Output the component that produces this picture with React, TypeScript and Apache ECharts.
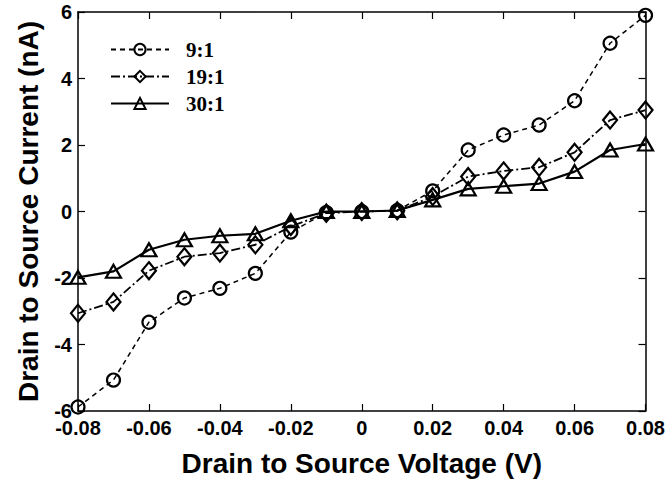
import React, { useEffect, useRef } from "react";
import * as echarts from "echarts";

const voltages = [-0.08, -0.07, -0.06, -0.05, -0.04, -0.03, -0.02, -0.01, 0, 0.01, 0.02, 0.03, 0.04, 0.05, 0.06, 0.07, 0.08];
const current9 = [-5.88, -5.07, -3.33, -2.6, -2.31, -1.86, -0.62, -0.03, 0, 0.03, 0.62, 1.85, 2.3, 2.6, 3.33, 5.06, 5.9];
const current19 = [-3.06, -2.72, -1.78, -1.36, -1.25, -1.0, -0.45, -0.05, 0, 0.02, 0.45, 1.05, 1.22, 1.33, 1.78, 2.75, 3.05];
const current30 = [-1.98, -1.8, -1.15, -0.85, -0.73, -0.67, -0.28, 0, 0, 0.03, 0.35, 0.68, 0.76, 0.84, 1.2, 1.85, 2.03];
const seriesNames = ["9:1", "19:1", "30:1"];

const pairs = (ys: number[]) => voltages.map((v, i) => [v, ys[i]]);

export default function App() {
  const ref = useRef<HTMLDivElement>(null);
  useEffect(() => {
    if (!ref.current) return;
    const chart = echarts.init(ref.current, null, { renderer: "svg" });
    const labelFont = { fontFamily: "Liberation Sans, Arial", fontWeight: "bold" as const, fontSize: 20, color: "#000" };
    const nameFont = { fontFamily: "Liberation Sans, Arial", fontWeight: "bold" as const, fontSize: 28, color: "#000" };
    const axisLine = { show: true, onZero: false, lineStyle: { color: "#000", width: 1.5 } };
    const tick = { show: true, inside: true, length: 7, lineStyle: { color: "#000", width: 1.2 } };
    const marker = (sym: string, size: number | number[]) => ({
      symbol: sym,
      symbolSize: size,
      showSymbol: true,
      itemStyle: { color: "rgba(255,255,255,0)", borderColor: "#000", borderWidth: 2.2 },
    });
    chart.setOption({
      animation: false,
      backgroundColor: "#fff",
      grid: { left: 78, right: 21, top: 12, bottom: 70 },
      legend: {
        orient: "vertical",
        left: 105,
        top: 34,
        itemWidth: 58,
        itemHeight: 14,
        itemGap: 6,
        data: seriesNames,
        textStyle: {
          fontFamily: "Liberation Serif, Times New Roman",
          fontWeight: "bold",
          fontSize: 21,
          lineHeight: 21,
          color: "#000",
          padding: [0, 0, 0, 12],
        },
      },
      xAxis: [
        {
          type: "value",
          min: -0.08,
          max: 0.08,
          interval: 0.02,
          axisLine,
          axisTick: tick,
          splitLine: { show: false },
          axisLabel: { ...labelFont, margin: 7, formatter: (v: number) => (Math.abs(v) < 1e-9 ? "0" : v.toFixed(2)) },
          name: "Drain to Source Voltage (V)",
          nameLocation: "middle",
          nameGap: 38,
          nameTextStyle: nameFont,
        },
        {
          type: "value",
          position: "top",
          min: -0.08,
          max: 0.08,
          interval: 0.02,
          axisLine,
          axisTick: tick,
          axisLabel: { show: false },
          splitLine: { show: false },
        },
      ],
      yAxis: [
        {
          type: "value",
          min: -6,
          max: 6,
          interval: 2,
          axisLine,
          axisTick: tick,
          splitLine: { show: false },
          axisLabel: { ...labelFont, margin: 6 },
          name: "Drain to Source Current (nA)",
          nameLocation: "middle",
          nameGap: 36,
          nameTextStyle: nameFont,
        },
        {
          type: "value",
          position: "right",
          min: -6,
          max: 6,
          interval: 2,
          axisLine,
          axisTick: tick,
          axisLabel: { show: false },
          splitLine: { show: false },
        },
      ],
      series: [
        {
          name: seriesNames[0],
          type: "line",
          data: pairs(current9),
          ...marker("circle", 13),
          lineStyle: { color: "#000", width: 1.5, type: [5, 4] },
          z: 3,
        },
        {
          name: seriesNames[1],
          type: "line",
          data: pairs(current19),
          ...marker("diamond", [14, 17]),
          lineStyle: { color: "#000", width: 1.8, type: [9, 3, 2, 3] },
          z: 4,
        },
        {
          name: seriesNames[2],
          type: "line",
          data: pairs(current30),
          ...marker("triangle", [15, 13]),
          lineStyle: { color: "#000", width: 2.2, type: "solid" },
          z: 5,
        },
      ],
    });
    return () => chart.dispose();
  }, []);
  return <div ref={ref} style={{ width: 668, height: 482, position: "absolute", left: 0, top: 0 }} />;
}
